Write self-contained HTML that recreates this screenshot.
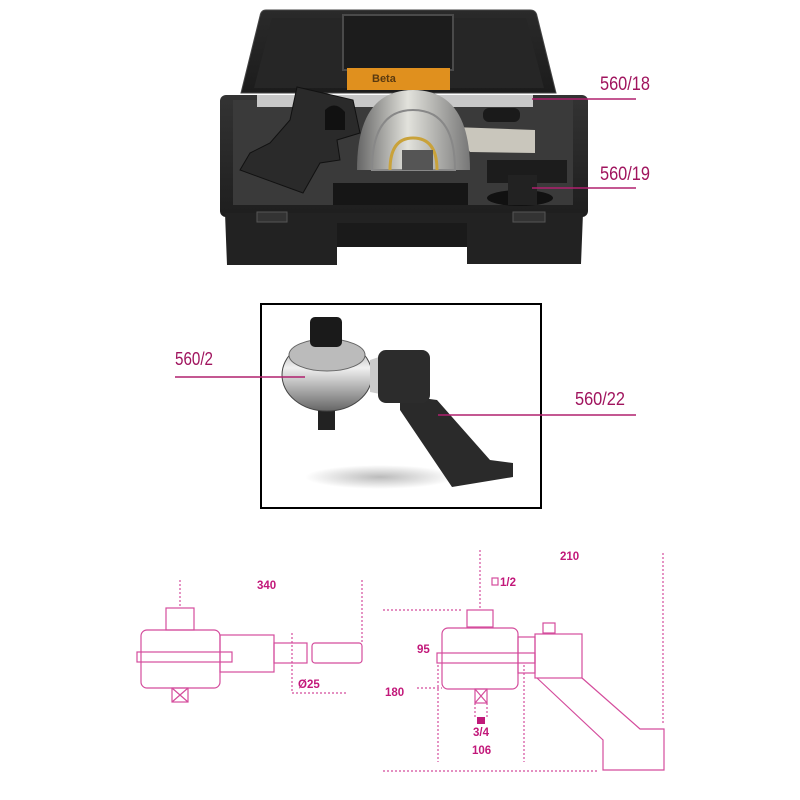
<!DOCTYPE html>
<html><head><meta charset="utf-8"><style>
body{margin:0;background:#fff;}
svg{display:block}
text{font-family:"Liberation Sans",sans-serif;}
</style></head><body>
<svg width="800" height="800" viewBox="0 0 800 800" xmlns="http://www.w3.org/2000/svg">
<defs>
<linearGradient id="lid" x1="0" y1="0" x2="0" y2="1"><stop offset="0" stop-color="#2a2a2a"/><stop offset="1" stop-color="#1c1c1c"/></linearGradient>
<linearGradient id="case" x1="0" y1="0" x2="0" y2="1"><stop offset="0" stop-color="#333"/><stop offset="1" stop-color="#1e1e1e"/></linearGradient>
<linearGradient id="steel" x1="0" y1="0" x2="1" y2="0"><stop offset="0" stop-color="#666"/><stop offset=".45" stop-color="#e2e2dc"/><stop offset="1" stop-color="#777"/></linearGradient>
<linearGradient id="steel2" x1="0" y1="0" x2="0" y2="1"><stop offset="0" stop-color="#999"/><stop offset=".4" stop-color="#f0f0f0"/><stop offset="1" stop-color="#666"/></linearGradient>
<radialGradient id="shadow"><stop offset="0" stop-color="#bbb"/><stop offset="1" stop-color="#fff"/></radialGradient>
</defs>
<path d="M266 10 L530 10 Q536 10 537 16 L556 93 L241 93 L260 16 Q261 10 266 10Z" fill="url(#lid)" stroke="#444"/>
<path d="M272 18 L526 18 L544 88 L254 88Z" fill="#262626"/>
<rect x="343" y="15" width="110" height="55" fill="#1c1c1c" stroke="#4a4a4a" stroke-width="2"/>
<rect x="347" y="68" width="103" height="22" fill="#e0901e"/>
<text x="372" y="82" font-size="11" font-weight="bold" fill="#5a3a10">Beta</text>
<rect x="220" y="95" width="368" height="122" rx="6" fill="url(#case)"/>
<rect x="233" y="100" width="340" height="105" fill="#3a3a3a"/>
<rect x="257" y="95" width="276" height="12" fill="#c8c8c8"/>
<path d="M225 213 L583 213 L581 264 L467 264 L467 247 L337 247 L337 265 L227 265Z" fill="#222"/>
<rect x="337" y="223" width="130" height="24" fill="#1a1a1a"/>
<rect x="257" y="212" width="30" height="10" fill="#333" stroke="#555"/>
<rect x="513" y="212" width="32" height="10" fill="#333" stroke="#555"/>
<path d="M297 87 L353 100 L360 133 L337 140 L340 160 L320 163 L303 193 L240 170 L250 153 L270 143 L290 120Z" fill="#2a2a2a" stroke="#111"/>
<path d="M325 110 Q335 100 345 112 L345 130 L325 130Z" fill="#111"/>
<path d="M453 127 L535 130 L535 153 L470 152Z" fill="#c9c6bc"/>
<path d="M357 170 Q357 90 413 90 Q470 90 470 170Z" fill="url(#steel)"/>
<path d="M372 170 Q372 110 413 110 Q455 110 455 170Z" fill="none" stroke="#888" stroke-width="2"/>
<path d="M390 170 Q390 138 413 138 Q437 138 437 170" fill="none" stroke="#c9a23a" stroke-width="3"/>
<rect x="402" y="150" width="31" height="20" fill="#555"/>
<rect x="483" y="108" width="37" height="14" rx="6" fill="#1a1a1a"/>
<rect x="333" y="183" width="135" height="22" fill="#161616"/>
<rect x="487" y="160" width="80" height="23" fill="#1c1c1c"/>
<ellipse cx="520" cy="198" rx="33" ry="8" fill="#111"/>
<rect x="508" y="175" width="29" height="30" fill="#222"/>
<text x="600" y="90" font-size="19" fill="#a0145e" textLength="50" lengthAdjust="spacingAndGlyphs">560/18</text>
<line x1="532" y1="99" x2="636" y2="99" stroke="#b0206e" stroke-width="1.5"/>
<text x="600" y="180" font-size="19" fill="#a0145e" textLength="50" lengthAdjust="spacingAndGlyphs">560/19</text>
<line x1="532" y1="188" x2="636" y2="188" stroke="#b0206e" stroke-width="1.5"/>
<rect x="261" y="304" width="280" height="204" fill="#fff" stroke="#000" stroke-width="2"/>
<ellipse cx="380" cy="477" rx="75" ry="12" fill="url(#shadow)"/>
<rect x="318" y="405" width="17" height="25" fill="#222"/>
<ellipse cx="327" cy="375" rx="45" ry="36" fill="url(#steel2)" stroke="#444"/>
<ellipse cx="327" cy="355" rx="38" ry="16" fill="#bbb" stroke="#666"/>
<path d="M370 360 L385 355 L385 395 L370 392Z" fill="#ccc"/>
<rect x="310" y="317" width="32" height="30" rx="5" fill="#1a1a1a"/>
<path d="M400 395 L437 400 L490 460 L513 463 L513 477 L452 487 L400 410Z" fill="#2a2a2a"/>
<rect x="378" y="350" width="52" height="53" rx="8" fill="#2c2c2c"/>
<text x="175" y="365" font-size="18" fill="#a0145e" textLength="38" lengthAdjust="spacingAndGlyphs">560/2</text>
<line x1="175" y1="377" x2="305" y2="377" stroke="#b0206e" stroke-width="1.5"/>
<text x="575" y="405" font-size="18" fill="#a0145e" textLength="50" lengthAdjust="spacingAndGlyphs">560/22</text>
<line x1="438" y1="415" x2="636" y2="415" stroke="#b0206e" stroke-width="1.5"/>
<g fill="none" stroke="#d44c9c" stroke-width="1.2">
<line x1="180" y1="580" x2="180" y2="608" stroke-dasharray="2,2"/>
<rect x="166" y="608" width="28" height="22"/>
<rect x="141" y="630" width="79" height="58" rx="6"/>
<rect x="137" y="652" width="95" height="10"/>
<rect x="220" y="635" width="54" height="37"/>
<rect x="274" y="643" width="33" height="20"/>
<rect x="312" y="643" width="50" height="20" rx="3"/>
<line x1="362" y1="580" x2="362" y2="642" stroke-dasharray="2,2"/>
<path d="M292 633 V693 H347" stroke-dasharray="2,2"/>
<rect x="172" y="688" width="16" height="14"/><path d="M172 688 L188 702 M188 688 L172 702"/>
<line x1="480" y1="550" x2="480" y2="610" stroke-dasharray="2,2"/>
<line x1="663" y1="553" x2="663" y2="723" stroke-dasharray="2,2"/>
<line x1="383" y1="610" x2="462" y2="610" stroke-dasharray="2,2"/>
<rect x="467" y="610" width="26" height="17"/>
<rect x="442" y="628" width="76" height="61" rx="6"/>
<rect x="437" y="653" width="98" height="10"/>
<rect x="518" y="637" width="17" height="36"/>
<rect x="535" y="634" width="47" height="44"/>
<rect x="543" y="623" width="12" height="10"/>
<path d="M537 678 L603 740 L603 770 L664 770 L664 729 L640 729 L582 678"/>
<line x1="383" y1="771" x2="597" y2="771" stroke-dasharray="2,2"/>
<line x1="417" y1="688" x2="442" y2="688" stroke-dasharray="2,2"/>
<line x1="438" y1="665" x2="438" y2="762" stroke-dasharray="2,2"/>
<line x1="524" y1="665" x2="524" y2="762" stroke-dasharray="2,2"/>
<rect x="475" y="689" width="12" height="14"/><path d="M475 689 L487 703 M487 689 L475 703"/>
<path d="M475 703 V717 M487 703 V717" stroke-dasharray="2,2"/>
<rect x="492" y="578" width="6" height="7"/>
</g>
<rect x="477" y="717" width="8" height="7" fill="#c01a7a"/>
<g fill="#c2187a" font-weight="bold" font-size="11.5">
<text x="257" y="589">340</text>
<text x="298" y="688">Ø25</text>
<text x="560" y="560">210</text>
<text x="500" y="586">1/2</text>
<text x="417" y="653">95</text>
<text x="385" y="696">180</text>
<text x="473" y="736">3/4</text>
<text x="472" y="754">106</text>
</g>
</svg>
</body></html>
